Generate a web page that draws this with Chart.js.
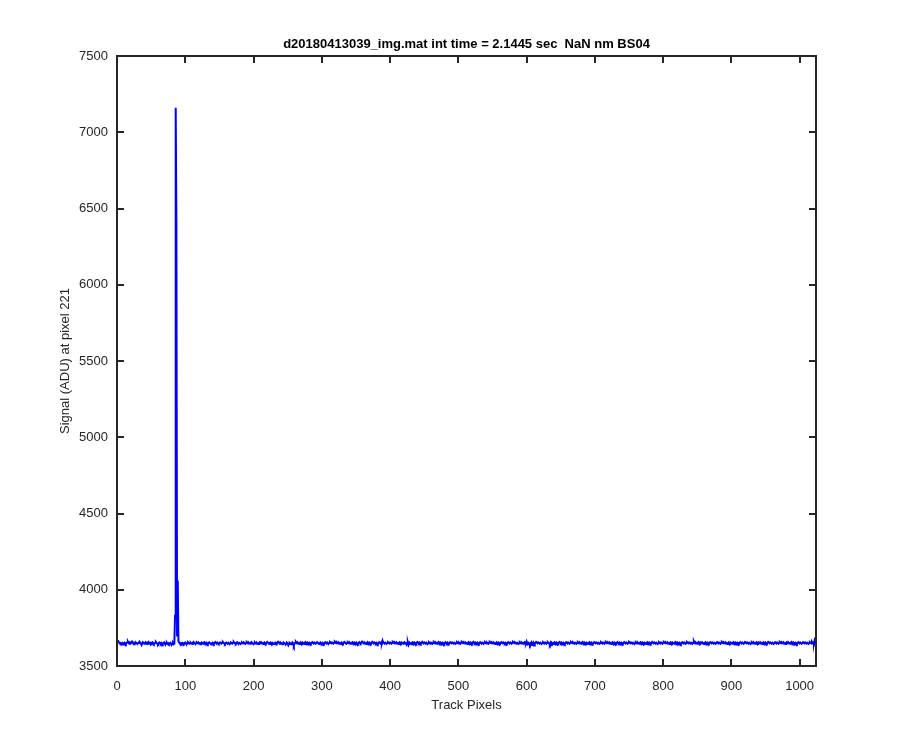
<!DOCTYPE html>
<html>
<head>
<meta charset="utf-8">
<script src="https://cdn.jsdelivr.net/npm/chart.js@4.4.1/dist/chart.umd.min.js"></script>
<style>
html,body{margin:0;padding:0;background:#fff;}
#wrap{width:900px;height:750px;position:relative;}
</style>
</head>
<body>
<div id="wrap"><canvas id="c" width="900" height="750"></canvas></div>
<script>
const chartTitle = "d20180413039_img.mat int time = 2.1445 sec  NaN nm BS04";
const xLabel = "Track Pixels";
const yLabel = "Signal (ADU) at pixel 221";
const xTickValues = [0,100,200,300,400,500,600,700,800,900,1000];
const yTickValues = [3500,4000,4500,5000,5500,6000,6500,7000,7500];
const xRange = [0, 1024];
const yRange = [3500, 7500];
// signal per track pixel (1..1024)
const signal = [
3668,3662,3655,3650,3652,3648,3645,3650,3641,3647,3653,3649,3644,3651,3656,3659,3650,3646,3652,3648,3655,3661,3654,3649,3643,3650,3657,3652,3648,3645,3651,3654,
3660,3653,3647,3638,3650,3655,3652,3646,3649,3656,3651,3645,3650,3658,3653,3647,3643,3652,3649,3655,3650,3644,3648,3653,3657,3651,3646,3642,3649,3654,3650,3645,
3652,3648,3643,3650,3655,3647,3641,3649,3653,3646,3650,3644,3648,3652,3645,3638,3647,3651,3643,3646,3830,7160,6420,3700,4060,3662,3655,3648,3644,3650,3646,3652,
3649,3645,3651,3654,3647,3643,3650,3656,3652,3646,3649,3653,3648,3644,3651,3658,3654,3649,3645,3650,3655,3651,3647,3652,3648,3643,3650,3654,3649,3646,3652,3656,
3651,3647,3653,3649,3644,3650,3655,3652,3646,3641,3648,3653,3650,3645,3651,3657,3652,3648,3654,3650,3645,3649,3655,3651,3647,3652,3658,3653,3649,3644,3650,3654,
3650,3646,3652,3648,3643,3649,3654,3651,3647,3653,3658,3652,3648,3645,3651,3656,3650,3646,3652,3649,3644,3650,3655,3651,3647,3653,3649,3645,3651,3657,3653,3648,
3654,3650,3646,3652,3657,3651,3647,3643,3649,3655,3650,3646,3652,3648,3644,3650,3656,3652,3647,3653,3649,3645,3651,3655,3650,3646,3652,3658,3654,3649,3645,3651,
3655,3650,3646,3652,3648,3644,3650,3654,3651,3647,3653,3659,3654,3650,3646,3652,3648,3643,3649,3655,3651,3647,3640,3648,3653,3649,3636,3645,3651,3647,3642,3650,
3655,3648,3634,3646,3652,3658,3651,3647,3653,3649,3644,3650,3656,3652,3648,3654,3650,3645,3651,3657,3653,3649,3655,3651,3647,3653,3649,3645,3651,3656,3652,3648,
3654,3650,3646,3652,3657,3653,3649,3645,3651,3655,3650,3646,3652,3648,3644,3650,3656,3652,3648,3654,3649,3645,3651,3657,3653,3649,3655,3651,3647,3653,3659,3654,
3650,3656,3652,3647,3653,3649,3645,3651,3655,3650,3646,3652,3658,3654,3649,3645,3651,3656,3652,3648,3654,3650,3646,3652,3657,3653,3649,3655,3651,3647,3653,3648,
3644,3650,3656,3652,3648,3654,3660,3655,3651,3647,3653,3649,3645,3651,3657,3652,3648,3654,3650,3646,3652,3658,3653,3649,3655,3651,3647,3653,3649,3644,3650,3656,
3652,3648,3654,3650,3667,3655,3651,3647,3653,3649,3645,3651,3656,3652,3648,3654,3650,3646,3652,3658,3654,3649,3655,3651,3647,3653,3649,3645,3651,3656,3652,3648,
3654,3650,3646,3652,3657,3653,3649,3640,3651,3655,3637,3646,3652,3648,3643,3650,3656,3652,3648,3654,3650,3645,3651,3657,3653,3649,3655,3651,3646,3652,3658,3653,
3649,3655,3651,3647,3653,3648,3644,3650,3656,3652,3647,3653,3649,3645,3651,3657,3653,3648,3654,3650,3646,3652,3658,3654,3649,3655,3651,3647,3653,3649,3644,3650,
3656,3652,3648,3654,3650,3646,3652,3657,3653,3649,3655,3651,3647,3653,3649,3645,3651,3656,3652,3648,3654,3650,3646,3652,3658,3654,3649,3655,3651,3647,3653,3649,
3645,3651,3657,3653,3649,3655,3651,3646,3652,3658,3653,3649,3655,3651,3647,3653,3648,3644,3650,3656,3652,3647,3653,3649,3645,3651,3657,3653,3648,3654,3650,3646,
3652,3658,3654,3649,3655,3651,3647,3653,3649,3644,3650,3656,3652,3648,3654,3650,3646,3652,3657,3653,3649,3655,3651,3647,3653,3649,3645,3651,3656,3652,3648,3654,
3650,3646,3652,3658,3654,3649,3655,3651,3647,3653,3649,3644,3650,3656,3652,3648,3654,3650,3646,3652,3657,3653,3649,3662,3651,3647,3653,3649,3640,3651,3656,3637,
3648,3654,3635,3646,3652,3658,3654,3649,3655,3651,3647,3653,3649,3644,3650,3656,3652,3648,3654,3650,3646,3652,3657,3653,3649,3640,3651,3636,3653,3649,3645,3651,
3656,3652,3648,3654,3650,3646,3652,3658,3654,3649,3655,3651,3647,3653,3649,3644,3650,3656,3652,3648,3654,3650,3646,3652,3657,3653,3649,3655,3651,3647,3653,3649,
3645,3651,3656,3652,3648,3654,3650,3646,3652,3658,3654,3649,3655,3651,3647,3653,3649,3644,3650,3656,3652,3648,3654,3650,3646,3652,3657,3653,3649,3655,3651,3647,
3653,3649,3645,3651,3656,3652,3648,3654,3650,3646,3652,3658,3654,3649,3655,3651,3647,3653,3649,3644,3650,3656,3652,3648,3654,3650,3646,3652,3657,3653,3649,3655,
3651,3647,3653,3649,3645,3651,3656,3652,3648,3654,3650,3646,3652,3658,3654,3649,3655,3651,3647,3653,3649,3644,3650,3656,3652,3648,3654,3650,3646,3652,3657,3653,
3649,3655,3651,3647,3653,3649,3645,3651,3656,3652,3648,3654,3650,3646,3652,3658,3654,3649,3655,3651,3647,3653,3649,3644,3650,3656,3652,3648,3654,3650,3646,3652,
3657,3653,3649,3655,3651,3647,3653,3649,3645,3651,3656,3652,3648,3654,3650,3646,3652,3658,3654,3649,3655,3651,3647,3653,3649,3644,3650,3656,3652,3648,3654,3650,
3646,3652,3657,3653,3649,3655,3651,3647,3653,3649,3645,3651,3662,3652,3648,3654,3650,3646,3652,3658,3654,3649,3655,3651,3647,3653,3649,3644,3650,3656,3652,3648,
3654,3650,3646,3652,3657,3653,3649,3655,3651,3647,3653,3649,3645,3651,3656,3652,3648,3654,3650,3646,3652,3658,3654,3649,3655,3651,3647,3653,3649,3644,3650,3656,
3652,3648,3654,3650,3646,3652,3657,3653,3649,3655,3651,3647,3653,3649,3645,3651,3656,3652,3648,3654,3650,3646,3652,3658,3654,3649,3655,3651,3647,3653,3649,3644,
3650,3656,3652,3648,3654,3650,3646,3652,3657,3653,3649,3655,3651,3647,3653,3649,3645,3651,3656,3652,3648,3654,3650,3646,3652,3658,3654,3649,3655,3651,3647,3653,
3649,3644,3650,3656,3652,3648,3654,3650,3646,3652,3657,3653,3649,3655,3651,3647,3653,3649,3645,3651,3656,3652,3648,3654,3650,3646,3652,3658,3654,3649,3655,3651,
3647,3653,3649,3644,3650,3656,3652,3648,3654,3650,3646,3652,3657,3653,3649,3655,3651,3647,3653,3649,3645,3651,3656,3652,3648,3660,3654,3650,3646,3668,3656,3662
];
const trackPixels = signal.map((_, i) => i + 1);

const AX = '#262626';
const FONT = "'Liberation Sans', Arial, Helvetica, sans-serif";

const boxPlugin = {
  id: 'matlabBox',
  afterDatasetsDraw(chart) {
    const {ctx, chartArea: a, scales} = chart;
    ctx.save();
    ctx.strokeStyle = AX;
    ctx.lineWidth = 2;
    ctx.beginPath();
    scales.y.ticks.forEach(t => {
      const y = Math.round(scales.y.getPixelForValue(t.value));
      ctx.moveTo(a.left, y); ctx.lineTo(a.left + 7, y);
      ctx.moveTo(a.right, y); ctx.lineTo(a.right - 7, y);
    });
    scales.x.ticks.forEach(t => {
      const x = Math.round(scales.x.getPixelForValue(t.value));
      ctx.moveTo(x, a.bottom); ctx.lineTo(x, a.bottom - 7);
      ctx.moveTo(x, a.top); ctx.lineTo(x, a.top + 7);
    });
    ctx.stroke();
    ctx.strokeRect(a.left, a.top, a.right - a.left, a.bottom - a.top);
    ctx.fillStyle = '#000';
    ctx.font = "bold 13px " + FONT;
    ctx.textAlign = 'center';
    ctx.textBaseline = 'middle';
    ctx.fillText(chartTitle, (a.left + a.right) / 2, 44);
    ctx.restore();
  }
};

new Chart(document.getElementById('c'), {
  type: 'line',
  data: {
    datasets: [{
      data: trackPixels.map((x, i) => ({x: x, y: signal[i]})),
      borderColor: '#0000ff',
      borderWidth: 2,
      pointRadius: 0,
      tension: 0,
      fill: false
    }]
  },
  options: {
    responsive: false,
    animation: false,
    parsing: false,
    layout: {padding: {left: 0, right: 84, top: 56, bottom: 0}},
    plugins: {legend: {display: false}, tooltip: {enabled: false}},
    scales: {
      x: {
        type: 'linear',
        min: xRange[0], max: xRange[1],
        afterBuildTicks: s => { s.ticks = xTickValues.map(v => ({value: v})); },
        afterFit: s => { s.height = 84; },
        grid: {display: false, drawTicks: false},
        border: {display: false},
        ticks: {color: AX, font: {family: FONT, size: 13}, padding: 13, maxRotation: 0, autoSkip: false, callback: v => String(v)},
        title: {display: true, text: xLabel, color: AX, font: {family: FONT, size: 13}, padding: {bottom: 37}}
      },
      y: {
        type: 'linear',
        min: yRange[0], max: yRange[1],
        afterBuildTicks: s => { s.ticks = yTickValues.map(v => ({value: v})); },
        afterFit: s => { s.width = 117; },
        grid: {display: false, drawTicks: false},
        border: {display: false},
        ticks: {color: AX, font: {family: FONT, size: 13}, padding: 9, autoSkip: false, callback: v => String(v)},
        title: {display: true, text: yLabel, color: AX, font: {family: FONT, size: 13}, padding: {top: 58}}
      }
    }
  },
  plugins: [boxPlugin]
});
</script>
</body>
</html>
